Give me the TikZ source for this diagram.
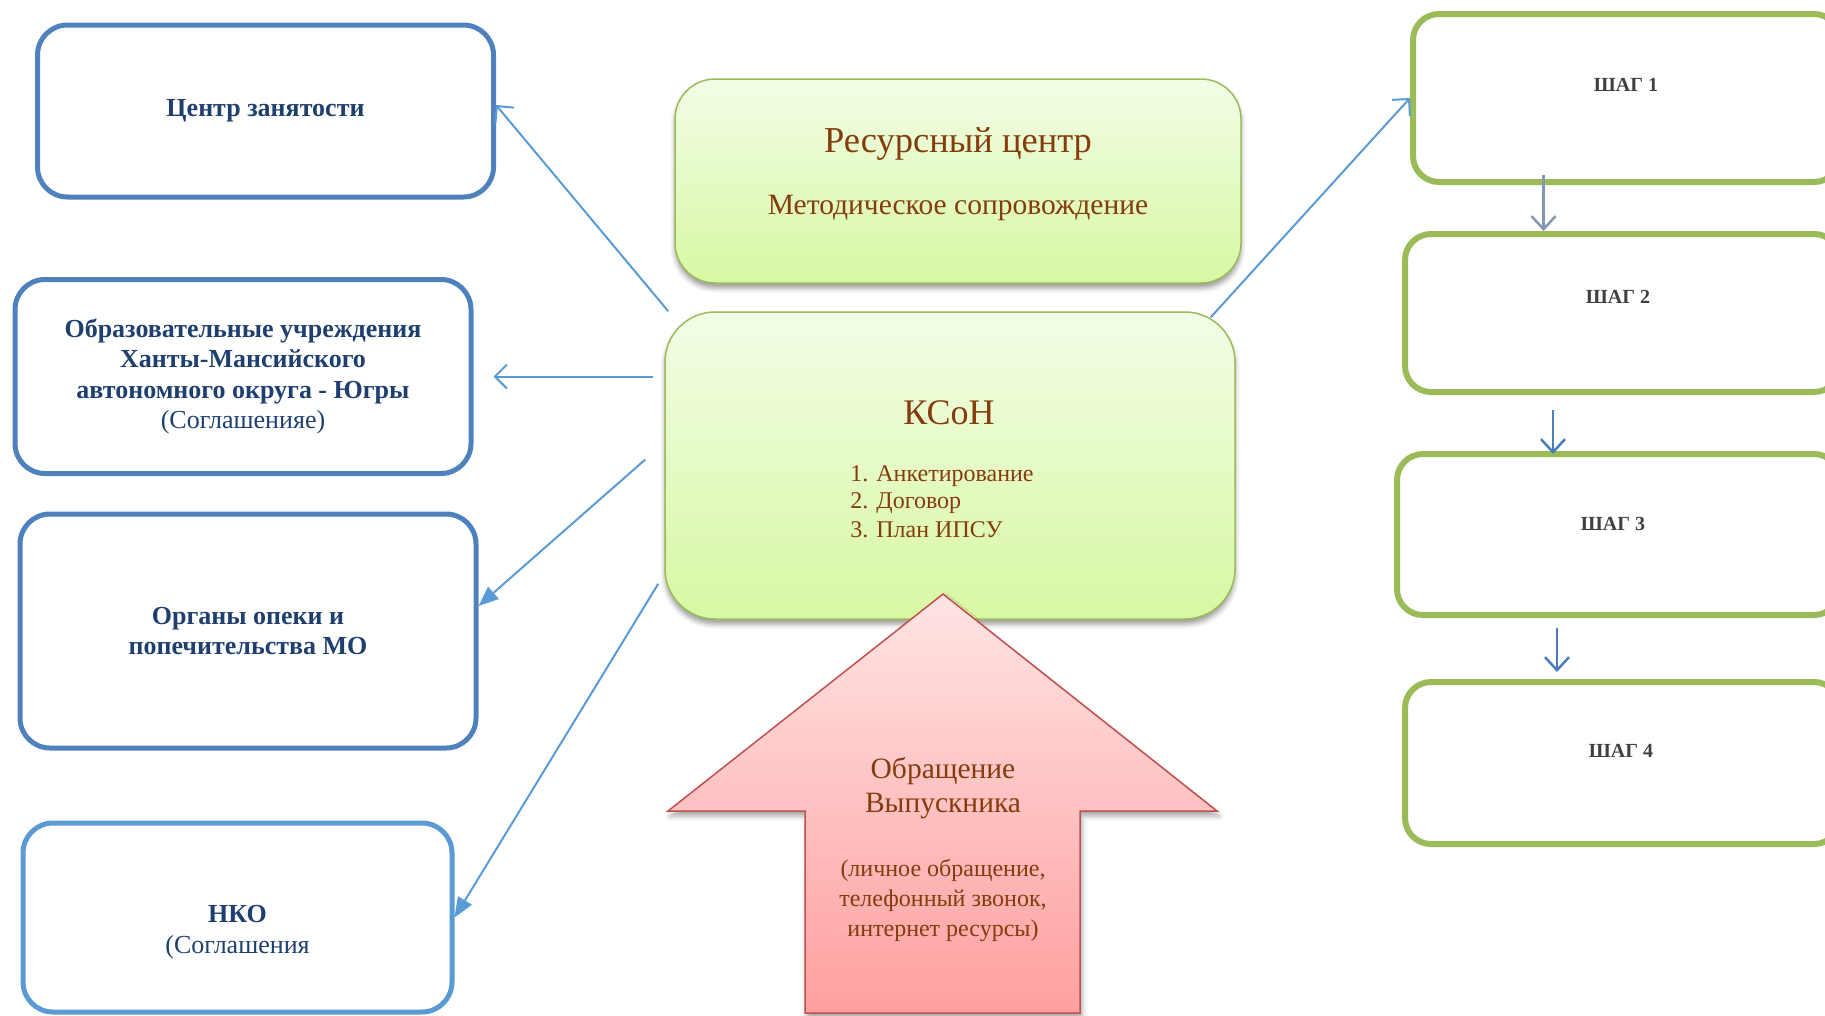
\documentclass[tikz,border=0pt]{standalone}
\usepackage{fontspec}
\setmainfont{Liberation Serif}
\usetikzlibrary{arrows.meta, shadows.blur, calc}

\definecolor{boxblue}{HTML}{4F81BD}
\definecolor{lightblue}{HTML}{5B9BD5}
\definecolor{navytext}{HTML}{1F3F6F}
\definecolor{stepgreen}{HTML}{9BBB59}
\definecolor{browntext}{HTML}{843C0C}
\definecolor{greentop}{HTML}{F2FDE6}
\definecolor{greenbottom}{HTML}{D8F8A3}
\definecolor{pinktop}{HTML}{FFE4E4}
\definecolor{pinkbottom}{HTML}{FF9F9F}
\definecolor{arrowred}{HTML}{C0504D}
\definecolor{steptext}{HTML}{404040}
\definecolor{graylink}{HTML}{8496B0}
\definecolor{steplink}{HTML}{4A7EBB}

\begin{document}
\begin{tikzpicture}[x=1pt, y=-1pt,
    % Define node styles for the boxes and the connectors.
    partner/.style={
      rectangle, rounded corners=30pt, draw=boxblue, line width=5pt,
      minimum width=456pt, text centered, align=center, text=navytext,
      font=\fontsize{26}{30.5}\selectfont\bfseries
    },
    centre/.style={
      rectangle, rounded corners=40pt, draw=stepgreen, line width=1.5pt,
      top color=greentop, bottom color=greenbottom,
      blur shadow={shadow xshift=0pt, shadow yshift=-5pt,
        shadow blur radius=5pt, shadow opacity=40}
    },
    centretext/.style={text=browntext, align=center},
    stepbox/.style={
      rectangle, rounded corners=26pt, draw=stepgreen, line width=6pt
    },
    steplabel/.style={text=steptext, font=\fontsize{20}{24}\selectfont\bfseries},
    appeal/.style={
      draw=arrowred, line width=1.5pt, top color=pinktop, bottom color=pinkbottom,
      blur shadow={shadow xshift=2pt, shadow yshift=-5pt,
        shadow blur radius=5pt, shadow opacity=35}
    },
    link/.style={draw=lightblue, line width=2pt,
      -{Straight Barb[length=12pt, width=24pt, line width=2pt]}},
    linkfill/.style={draw=lightblue, line width=2pt,
      -{Triangle[length=20pt, width=16pt]}},
    steparrow/.style={line width=2.5pt,
      -{Straight Barb[length=13pt, width=24pt, line width=2.5pt]}}
]
\useasboundingbox (0,0) rectangle (1825,1015);
\clip (0,0) rectangle (1825,1015);

% Partners on the left
\node [partner, minimum height=172pt] (zan) at (265.5,111) {Центр занятости};
\node [partner, minimum height=194pt] (edu) at (243,376.5)
  {Образовательные учреждения\\Ханты-Мансийского\\автономного округа - Югры\\\mdseries(Соглашенияе)};
\node [partner, minimum height=234pt] (opeka) at (248,631)
  {Органы опеки и\\попечительства МО};
\node [partner, draw=lightblue, minimum width=429pt, minimum height=189pt] (nko) at (237.5,917.5) {};
\node [text=navytext, align=center, font=\fontsize{26}{30.5}\selectfont] (nkotext) at (237.5,932)
  {\bfseries НКО\\(Соглашения};

% Resource centre and KSoN in the middle
\node [centre, minimum width=566pt, minimum height=204pt] (res) at (958,181) {};
\node [centretext, font=\fontsize{36.5}{40}\selectfont] (restitle) at (958,143.5) {Ресурсный центр};
\node [centretext, font=\fontsize{29.5}{34}\selectfont] (ressub) at (958,207.5) {Методическое сопровождение};

\node [centre, rounded corners=50pt, minimum width=570pt, minimum height=307pt] (kson) at (950,465.5) {};
\node [centretext, font=\fontsize{36}{40}\selectfont] (ksontitle) at (949,413) {КСоН};
\node [centretext, font=\fontsize{24}{28}\selectfont] (ksonlist) at (942,503.5)
  {\begin{tabular}{@{}l@{}}
     1. Анкетирование\\[-1pt]
     2. Договор\\[1pt]
     3. План ИПСУ
   \end{tabular}};

% Appeal arrow pointing up into KSoN
\path [appeal] (943,594) -- (1217,811) -- (1080,811) -- (1080,1013)
  -- (805,1013) -- (805,811) -- (668,811) -- cycle;
\node [centretext, font=\fontsize{29.5}{34}\selectfont] (appealtitle) at (943,788)
  {Обращение\\Выпускника};
\node [centretext, font=\fontsize{24}{30}\selectfont] (appeallist) at (943,900)
  {(личное обращение,\\телефонный звонок,\\интернет ресурсы)};

% Steps on the right
\node [stepbox, minimum width=427pt, minimum height=168pt] (step1) at (1626.5,98) {};
\node [stepbox, minimum width=435pt, minimum height=158pt] (step2) at (1622.5,313) {};
\node [stepbox, minimum width=443pt, minimum height=161pt] (step3) at (1618.5,534.5) {};
\node [stepbox, minimum width=435pt, minimum height=162pt] (step4) at (1622.5,763) {};
\node [steplabel] (step1text) at (1626,85) {ШАГ 1};
\node [steplabel] (step2text) at (1618,297) {ШАГ 2};
\node [steplabel] (step3text) at (1613,524) {ШАГ 3};
\node [steplabel] (step4text) at (1621,751) {ШАГ 4};

% Draw arrows connecting the nodes
\draw [link] ([xshift=4pt]kson.north west) -- ([yshift=6pt]zan.east);
\draw [link] ([xshift=-11pt]kson.west |- edu.east) -- ([xshift=20pt]edu.east);
\draw [linkfill] ([xshift=-19pt, yshift=6pt]kson.west) -- ([yshift=25pt]opeka.east);
\draw [linkfill] ([xshift=-6pt, yshift=36pt]kson.south west) -- (nko.east);
\draw [link] ([xshift=-25pt, yshift=-6pt]kson.north east) -- (step1.west);

\coordinate (s12) at ([xshift=-83pt, yshift=10pt]step1.south);
\coordinate (s23) at ([xshift=-69.5pt, yshift=-15pt]step2.south);
\coordinate (s34) at ([xshift=-61.5pt, yshift=-10pt]step3.south);
\draw [steparrow, graylink] (s12) -- (s12 |- step2.north);
\draw [steparrow, steplink] (s23) -- ([yshift=-3pt]s23 |- step3.north);
\draw [steparrow, steplink] (s34) -- ([yshift=7pt]s34 |- step4.north);

\end{tikzpicture}
\end{document}
